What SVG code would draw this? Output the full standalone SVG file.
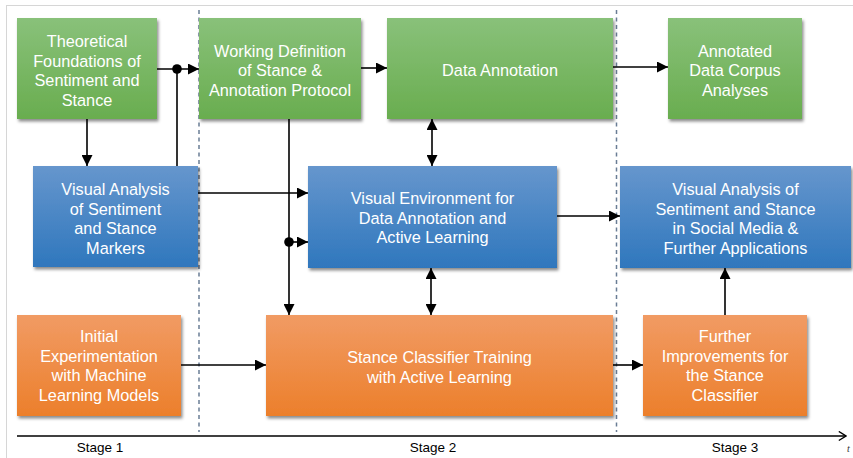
<svg xmlns="http://www.w3.org/2000/svg" width="853" height="458" viewBox="0 0 853 458">
<defs>
<linearGradient id="gGreen" x1="0" y1="0" x2="0" y2="1"><stop offset="0" stop-color="#89c17a"/><stop offset="1" stop-color="#69ad4f"/></linearGradient>
<linearGradient id="gBlue" x1="0" y1="0" x2="0" y2="1"><stop offset="0" stop-color="#6696cd"/><stop offset="1" stop-color="#2f77bd"/></linearGradient>
<linearGradient id="gOrange" x1="0" y1="0" x2="0" y2="1"><stop offset="0" stop-color="#f19b64"/><stop offset="1" stop-color="#ec7f2b"/></linearGradient>
<filter id="shadow" x="-10%" y="-10%" width="125%" height="130%"><feDropShadow dx="1.5" dy="2.5" stdDeviation="1.5" flood-color="#000" flood-opacity="0.45"/></filter>
<marker id="arr" viewBox="0 0 10 10" refX="10" refY="5" markerWidth="11" markerHeight="11" markerUnits="userSpaceOnUse" orient="auto-start-reverse"><path d="M0,0 L10,5 L0,10 z" fill="#000"/></marker>
<marker id="open" viewBox="0 0 10 12" refX="9" refY="6" markerWidth="9" markerHeight="11" markerUnits="userSpaceOnUse" orient="auto"><path d="M1,1 L9,6 L1,11" fill="none" stroke="#000" stroke-width="1.6"/></marker>
</defs>
<style>
.box{filter:url(#shadow);}
.g{fill:url(#gGreen);}
.b{fill:url(#gBlue);}
.o{fill:url(#gOrange);}
.t{font-family:"Liberation Sans",Arial,sans-serif;font-size:16.3px;fill:#fff;text-anchor:middle;}
.s{font-family:"Liberation Sans",Arial,sans-serif;font-size:13.5px;fill:#000;text-anchor:middle;}
.c{stroke:#000;stroke-width:1.6;fill:none;}
.a{marker-end:url(#arr);}
.d{marker-start:url(#arr);marker-end:url(#arr);}
.dash{stroke:#6a7d95;stroke-width:1.5;stroke-dasharray:4 3.5;fill:none;}
</style>
<rect width="853" height="458" fill="#fff"/>
<rect x="6.5" y="5.5" width="900" height="500" fill="none" stroke="#d6d6d6" stroke-width="1"/>
<g id="stage-dividers">
<line class="dash" x1="199" y1="10" x2="199" y2="432"/>
<line class="dash" x1="616.5" y1="10" x2="616.5" y2="432"/>
</g>
<g id="timeline">
<line x1="17" y1="436" x2="846" y2="436" stroke="#000" stroke-width="1.6" marker-end="url(#open)"/>
<text class="s" x="100" y="452">Stage 1</text>
<text class="s" x="433" y="452">Stage 2</text>
<text class="s" x="735" y="452">Stage 3</text>
<text x="847" y="452" font-family="Liberation Serif,serif" font-style="italic" font-size="10" fill="#333">t</text>
</g>
<g id="n1"><rect class="box g" x="17" y="18" width="140" height="101"/>
<text class="t"><tspan x="87" y="47">Theoretical</tspan><tspan x="87" y="66.5">Foundations of</tspan><tspan x="87" y="86">Sentiment and</tspan><tspan x="87" y="105.5">Stance</tspan></text></g>
<g id="n2"><rect class="box g" x="199" y="18" width="162" height="101"/>
<text class="t"><tspan x="280" y="56.5">Working Definition</tspan><tspan x="280" y="76">of Stance &amp;</tspan><tspan x="280" y="95.5">Annotation Protocol</tspan></text></g>
<g id="n3"><rect class="box g" x="387" y="18" width="226" height="101"/>
<text class="t" x="500" y="76">Data Annotation</text></g>
<g id="n4"><rect class="box g" x="668" y="18" width="134" height="101"/>
<text class="t"><tspan x="735" y="56.5">Annotated</tspan><tspan x="735" y="76">Data Corpus</tspan><tspan x="735" y="95.5">Analyses</tspan></text></g>
<g id="n5"><rect class="box b" x="33" y="166" width="165" height="101"/>
<text class="t"><tspan x="115.5" y="195">Visual Analysis</tspan><tspan x="115.5" y="214.5">of Sentiment</tspan><tspan x="115.5" y="234">and Stance</tspan><tspan x="115.5" y="253.5">Markers</tspan></text></g>
<g id="n6"><rect class="box b" x="308" y="166" width="249" height="102"/>
<text class="t"><tspan x="432.5" y="204">Visual Environment for</tspan><tspan x="432.5" y="223.5">Data Annotation and</tspan><tspan x="432.5" y="243">Active Learning</tspan></text></g>
<g id="n7"><rect class="box b" x="620" y="166" width="231" height="102"/>
<text class="t"><tspan x="735.5" y="195">Visual Analysis of</tspan><tspan x="735.5" y="214.5">Sentiment and Stance</tspan><tspan x="735.5" y="234">in Social Media &amp;</tspan><tspan x="735.5" y="253.5">Further Applications</tspan></text></g>
<g id="n8"><rect class="box o" x="17" y="315" width="164" height="101"/>
<text class="t"><tspan x="99" y="342">Initial</tspan><tspan x="99" y="361.5">Experimentation</tspan><tspan x="99" y="381">with Machine</tspan><tspan x="99" y="400.5">Learning Models</tspan></text></g>
<g id="n9"><rect class="box o" x="266" y="315" width="347" height="101"/>
<text class="t"><tspan x="439.5" y="363">Stance Classifier Training</tspan><tspan x="439.5" y="382.5">with Active Learning</tspan></text></g>
<g id="n10"><rect class="box o" x="643" y="315" width="164" height="101"/>
<text class="t"><tspan x="725" y="342">Further</tspan><tspan x="725" y="361.5">Improvements for</tspan><tspan x="725" y="381">the Stance</tspan><tspan x="725" y="400.5">Classifier</tspan></text></g>
<g id="connectors">
<path class="c a" d="M157,69 H199"/>
<path class="c" d="M177,166 V69"/>
<circle cx="177" cy="69" r="4.8" fill="#000"/>
<path class="c a" d="M87,119 V166"/>
<path class="c a" d="M361,68 H387"/>
<path class="c a" d="M613,67 H668"/>
<path class="c d" d="M432,119 V166"/>
<path class="c a" d="M289,119 V315"/>
<circle cx="289" cy="242" r="4.8" fill="#000"/>
<path class="c a" d="M289,242 H308"/>
<path class="c a" d="M198,193 H308"/>
<path class="c a" d="M557,216 H620"/>
<path class="c d" d="M431,268 V315"/>
<path class="c a" d="M181,365 H266"/>
<path class="c a" d="M613,365 H643"/>
<path class="c a" d="M725,315 V268"/>
</g>
</svg>
